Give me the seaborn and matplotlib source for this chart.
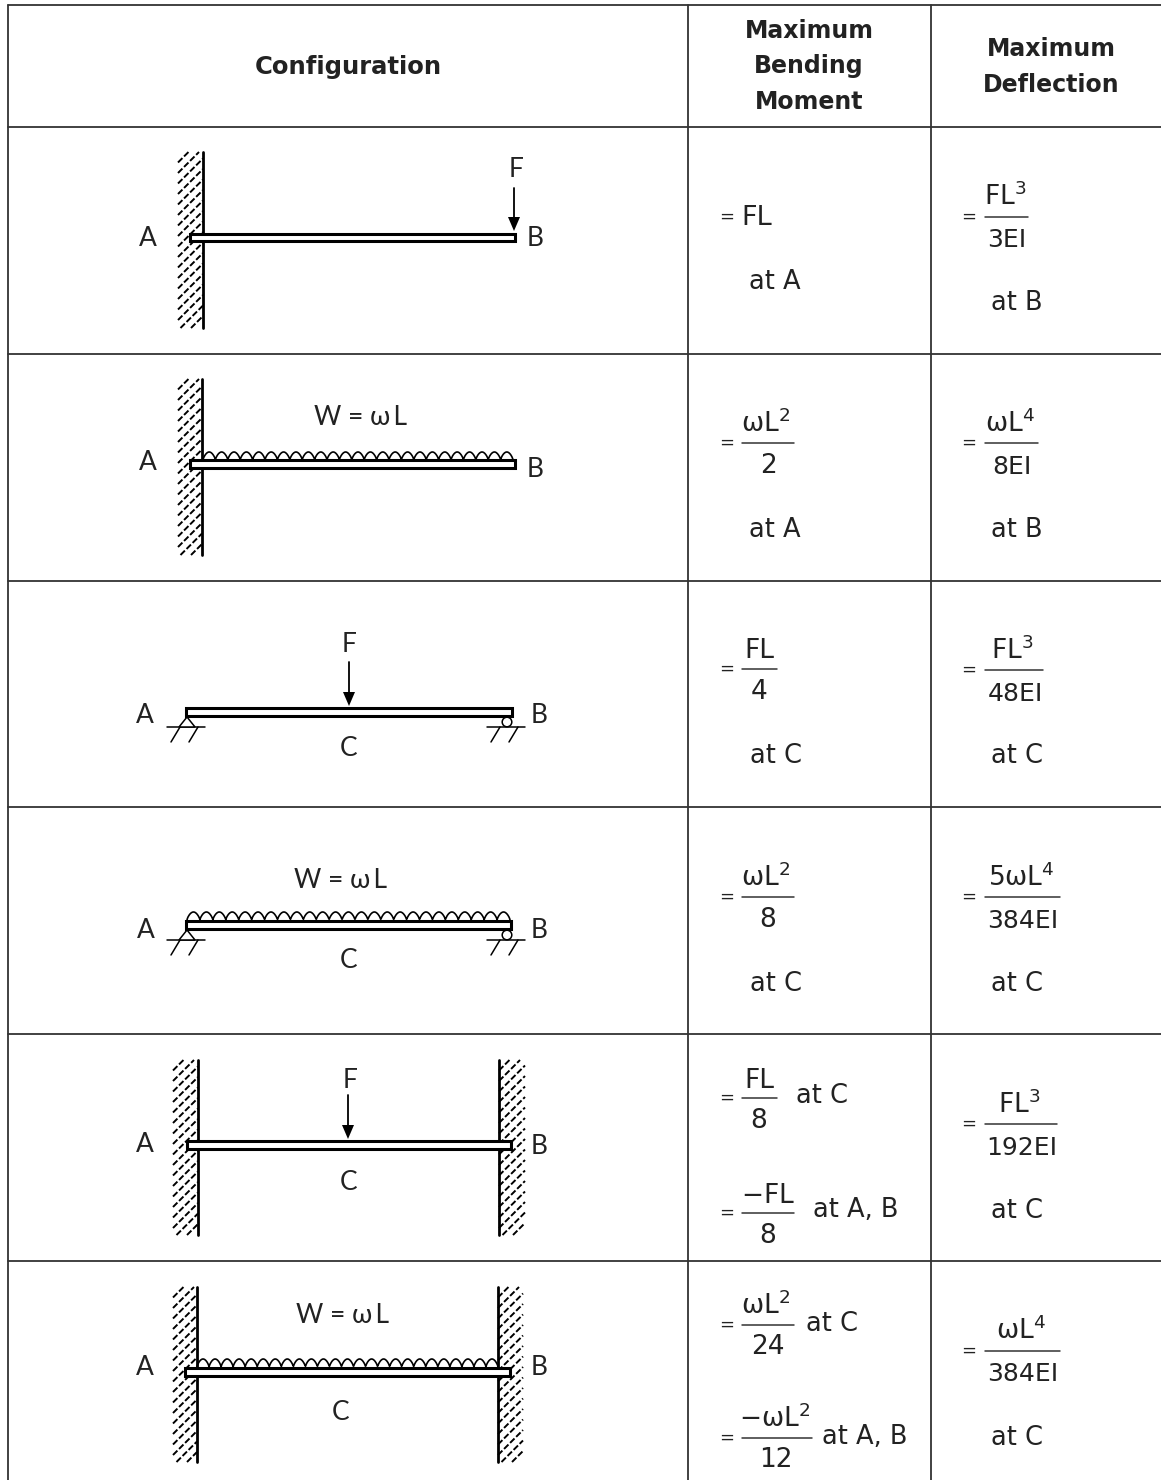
import numpy as np
import pandas as pd
import matplotlib
matplotlib.use("Agg")
import matplotlib.pyplot as plt
from matplotlib.patches import Rectangle, Circle
import seaborn as sns

sns.set_theme(style="white")
plt.rcParams['font.family'] = ['DejaVu Sans']
plt.rcParams['mathtext.default'] = 'regular'

INK = "#222222"

# table text
headers = ["Configuration", "Maximum\nBending\nMoment", "Maximum\nDeflection"]
moment_where = ["at A", "at A", "at C", "at C", "at C", "at A, B", "at C", "at A, B"]
moment_num = ["$\\omega L^2$", "FL", "$\\omega L^2$", "FL", "$-FL$", "$\\omega L^2$", "$-\\omega L^2$"]
moment_den = ["2", "4", "8", "8", "8", "24", "12"]
deflect_num = ["$FL^3$", "$\\omega L^4$", "$FL^3$", "$5\\omega L^4$", "$FL^3$", "$\\omega L^4$"]
deflect_den = ["3EI", "8EI", "48EI", "384EI", "192EI", "384EI"]
deflect_where = ["at B", "at B", "at C", "at C", "at C", "at C"]
load_label = "W = \u03c9\u2009L"
n_scallops = 25

# table layout, pixels
col_x = [8, 688, 931]
row_y = [5, 127, 354, 581, 807, 1034, 1261]
table_right, table_bottom = 1161, 1480

# fraction layout: num x, num baseline, bar x0, bar x1, bar y, den x, den baseline
moment_frac = [
    (766, 432, 742, 794, 443, 768, 473),
    (759, 658, 742, 777, 669, 759, 699),
    (766, 886, 742, 794, 897, 768, 927),
    (759, 1088, 742, 777, 1098, 759, 1128),
    (768, 1203, 742, 794, 1213, 768, 1243),
    (766, 1314, 742, 794, 1325, 768, 1354),
    (775, 1427, 742, 812, 1438, 776, 1467),
]
deflect_frac = [
    (1005, 205, 985, 1028, 217, 1007, 247),
    (1010, 432, 985, 1038, 443, 1012, 474),
    (1012, 659, 985, 1043, 670, 1015, 701),
    (1021, 886, 985, 1060, 897, 1023, 928),
    (1019, 1113, 985, 1057, 1124, 1022, 1155),
    (1021, 1339, 985, 1060, 1351, 1023, 1381),
]
moment_where_xy = [(775, 289), (775, 537), (776, 763), (776, 991), (822, 1103), (856, 1217), (832, 1331), (865, 1444)]
deflect_where_xy = [(1017, 310), (1017, 537), (1017, 763), (1017, 991), (1017, 1218), (1017, 1445)]

fig = plt.figure(figsize=(11.61, 14.8), dpi=100)
ax = fig.add_axes([0, 0, 1, 1])


def seg(xs, ys, lw=1.5, color="black"):
    sns.lineplot(x=xs, y=ys, ax=ax, sort=False, estimator=None, errorbar=None,
                 color=color, linewidth=lw, legend=False)


def txt(x, y, s, size=18, family="DejaVu Sans"):
    # y is the baseline
    ax.text(x, y, s, fontsize=size, color=INK, ha="center", va="baseline", family=family, zorder=8)


def lab(x, y, s):
    txt(x, y, s, size=19, family="Lato")


def wall(x0, x1, y0, y1, face):
    # hatched strip with a solid face line
    step = 10.5
    for start in np.arange(y0, y1 + (x1 - x0), step):
        ya, yb = start, start - (x1 - x0)
        xa, xb = x0, x1
        if ya > y1:
            xa, ya = x0 + (ya - y1), y1
        if yb < y0:
            xb, yb = x1 - (y0 - yb), y0
        if xb - xa > 3:
            ax.plot([xa, xb], [ya, yb], color="black", lw=1.4, dashes=(3.2, 1.2))
    seg([face, face], [y0, y1], lw=2.0)


def beam(x0, x1, y0, y1):
    ax.add_patch(Rectangle((x0, y0 + 0.9), x1 - x0, y1 - y0 - 1.8, fc="white", ec="black", lw=2.2, zorder=5))


def point_load(x, y0, y1):
    seg([x, x], [y0, y1 - 10], lw=1.3)
    ax.fill([x - 6, x + 6, x], [y1 - 14, y1 - 14, y1], color="black", zorder=6, lw=0)


def udl(x0, x1, base, h=8):
    xs = np.linspace(x0, x1, 900)
    ys = base - h * np.abs(np.sin(np.pi * n_scallops * (xs - x0) / (x1 - x0))) ** 0.7
    seg(xs, ys, lw=1.2)


def supports(x_a, x_b, y):
    # y is the ground line
    ax.fill([x_a - 8, x_a + 8, x_a], [y, y, y - 10], fc="white", ec="black", lw=1.1, zorder=4)
    ax.add_patch(Circle((x_b - 4, y - 5), 4.8, fc="white", ec="black", lw=1.1, zorder=4))
    for gx in (x_a, x_b - 4):
        seg([gx - 20, gx + 18], [y, y], lw=1.1)
        seg([gx - 7, gx - 16], [y, y + 15], lw=1.1)
        seg([gx + 11, gx + 2], [y, y + 15], lw=1.1)


# grid, the right side of the table has no border
grid = []
for i, x in enumerate(col_x):
    grid.append(pd.DataFrame({"x": [x, x], "y": [row_y[0], table_bottom], "k": f"c{i}"}))
for i, y in enumerate(row_y):
    grid.append(pd.DataFrame({"x": [col_x[0], table_right], "y": [y, y], "k": f"r{i}"}))
sns.lineplot(data=pd.concat(grid), x="x", y="y", units="k", estimator=None, sort=False,
             color="#333333", linewidth=1.3, ax=ax, legend=False)

# headers
ax.text(348, 67, headers[0], fontsize=17.5, fontweight="bold", color=INK, ha="center", va="center")
for s, x, y0 in [(headers[1], 809, 31), (headers[2], 1051, 49)]:
    for i, line in enumerate(s.split("\n")):
        ax.text(x, y0 + i * 35.5, line, fontsize=17, fontweight="bold",
                color=INK, ha="center", va="center")

# row 1 cantilever, end load
wall(178, 203, 152, 328, 203)
beam(190, 515, 233, 242)
point_load(514, 188, 231)
lab(516, 177, "F"); lab(148, 246, "A"); lab(535, 246, "B")

# row 2 cantilever, distributed load
wall(178, 202, 379, 555, 202)
udl(203, 513, 460)
beam(190, 515, 459, 469)
lab(360, 425, load_label); lab(148, 470, "A"); lab(535, 477, "B")

# row 3 simply supported, central load
point_load(349, 662, 706)
beam(186, 512, 707, 717)
supports(187, 511, 727)
lab(349, 652, "F"); lab(145, 723, "A"); lab(539, 723, "B"); lab(349, 756, "C")

# row 4 simply supported, distributed load
udl(187, 510, 920)
beam(186, 511, 920, 930)
supports(187, 511, 940)
lab(340, 888, load_label); lab(146, 938, "A"); lab(539, 938, "B"); lab(349, 968, "C")

# row 5 fixed ends, central load
wall(173, 198, 1060, 1235, 198)
wall(499, 525, 1060, 1235, 499)
point_load(348, 1095, 1139)
beam(187, 511, 1140, 1150)
lab(350, 1088, "F"); lab(145, 1152, "A"); lab(539, 1154, "B"); lab(349, 1190, "C")

# row 6 fixed ends, distributed load
wall(173, 197, 1287, 1462, 197)
wall(498, 523, 1287, 1462, 498)
udl(197, 498, 1367)
beam(185, 510, 1367, 1377)
lab(342, 1323, load_label); lab(145, 1375, "A"); lab(539, 1375, "B"); lab(341, 1420, "C")

# first moment cell is not a fraction
txt(727, 222, "=", size=13)
txt(757, 225, "FL", size=19.5)

for num, den, f, eq in zip(moment_num + deflect_num, moment_den + deflect_den,
                           moment_frac + deflect_frac, [727] * 7 + [969] * 6):
    nx, ny, bx0, bx1, by, dx, dy = f
    txt(eq, by + 4.5, "=", size=13)
    txt(nx, ny, num, size=19)
    seg([bx0, bx1], [by, by], lw=1.1, color="#333333")
    txt(dx, dy, den, size=19 if eq == 727 else 18)

for s, (x, y) in zip(moment_where + deflect_where, moment_where_xy + deflect_where_xy):
    txt(x, y, s, size=18.5)

ax.set_xlim(0, 1161)
ax.set_ylim(1480, 0)
ax.axis("off")
fig.savefig("out.png", dpi=100, facecolor="white")
